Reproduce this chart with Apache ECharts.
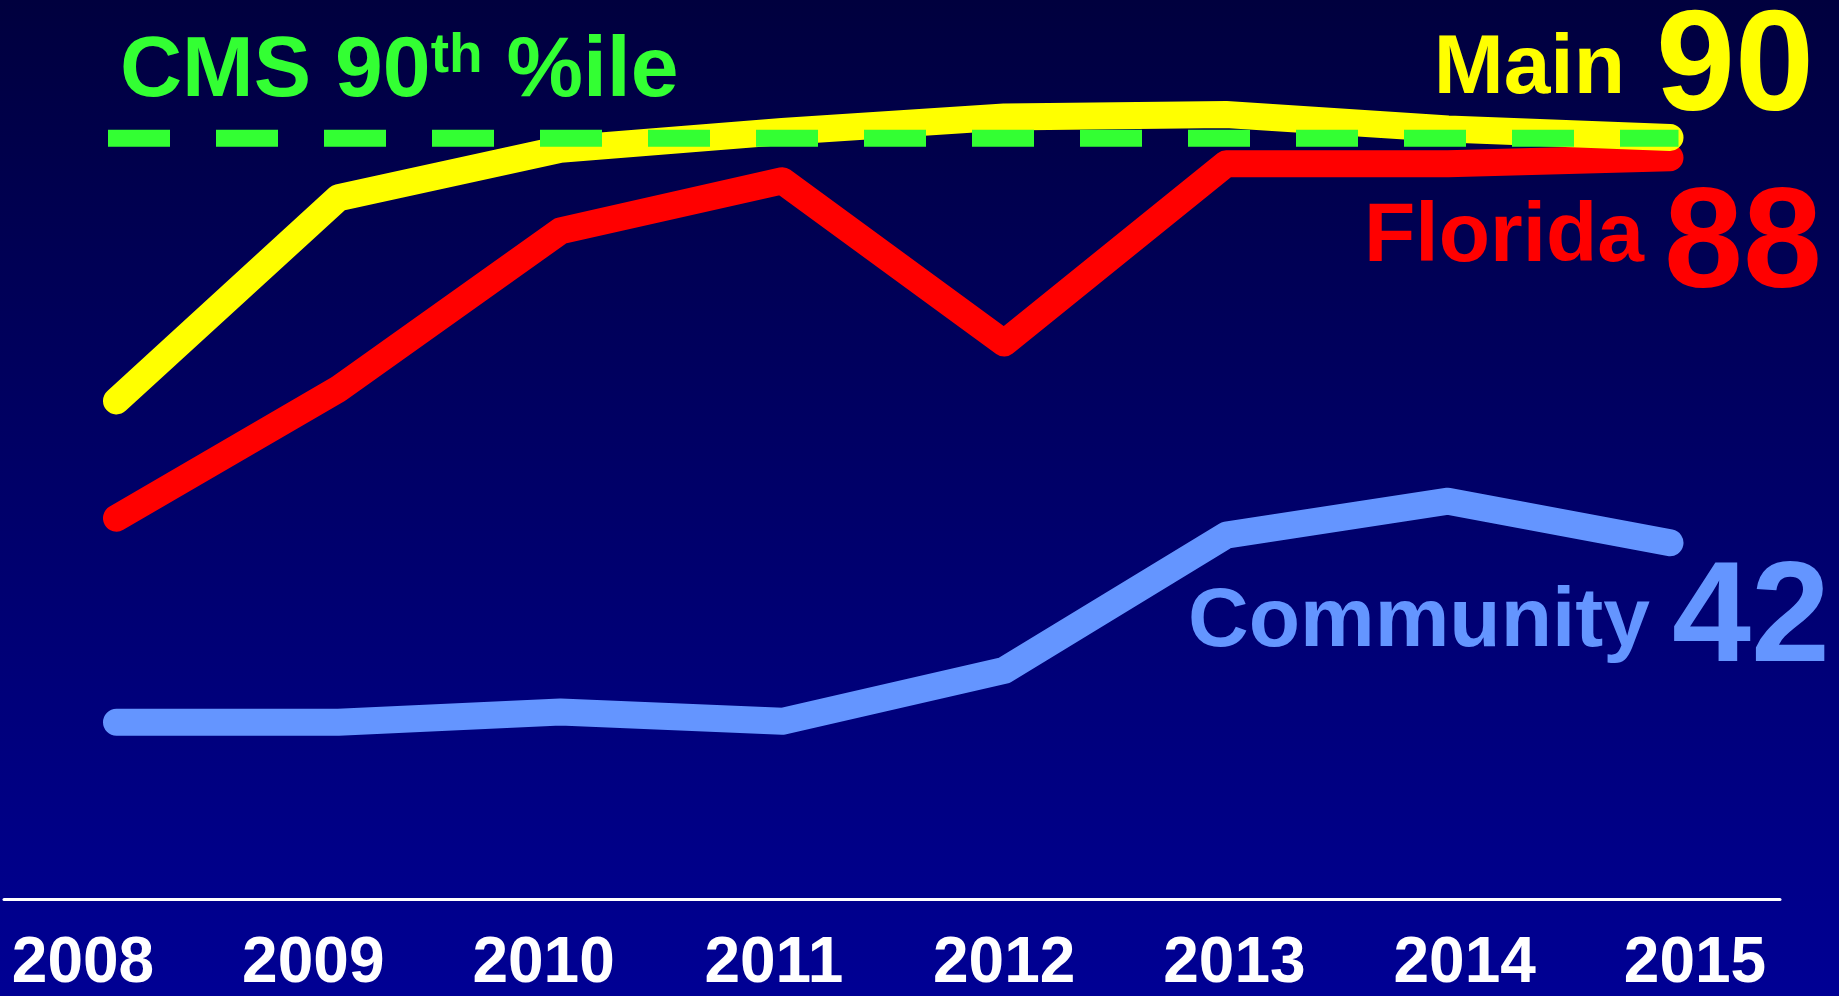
<!DOCTYPE html>
<html>
<head>
<meta charset="utf-8">
<title>CMS 90th %ile</title>
<script src="https://cdn.jsdelivr.net/npm/echarts@6.0.0/dist/echarts.min.js"></script>
<style>
  html, body { margin: 0; padding: 0; }
  #chart { width: 1839px; height: 996px; }
</style>
</head>
<body>
<div id="chart"></div>
<script>
// values (percent)
var years = ['2008', '2009', '2010', '2011', '2012', '2013', '2014', '2015']
var mainValues = [58.6, 82.5, 88.2, 90.3, 92.0, 92.3, 90.6, 89.6]
var floridaValues = [44.8, 60.0, 78.6, 84.5, 65.4, 86.5, 86.5, 87.2]
var communityValues = [20.8, 20.8, 22.0, 20.9, 26.9, 42.8, 46.8, 41.9]
var cmsValues = [89.5, 89.5, 89.5, 89.5, 89.5, 89.5, 89.5, 89.5]
var endLabels = ['Main', 'Florida', 'Community']
var endNumbers = ['90', '88', '42']

var font = 'Liberation Sans, Arial, sans-serif'
var yellow = '#ffff00'
var red = '#ff0000'
var blue = '#6495ff'
var green = '#33ff33'

var chart = echarts.init(document.getElementById('chart'))

function lineSeries (name, data, color, z) {
  return {
    name: name,
    type: 'line',
    xAxisIndex: 0,
    yAxisIndex: 0,
    data: data,
    showSymbol: false,
    symbol: 'none',
    z: z,
    lineStyle: { color: color, width: 27, cap: 'round', join: 'round' }
  }
}

// right-aligned label boxes (lineHeight = fontSize)
function word (text, color, size, right, top) {
  return {
    type: 'text',
    right: 1839 - right,
    top: top,
    style: {
      text: text,
      fill: color,
      font: 'bold ' + size + 'px ' + font,
      lineHeight: size
    }
  }
}

chart.setOption({
  animation: false,
  backgroundColor: {
    type: 'linear', x: 0, y: 0, x2: 0, y2: 1,
    colorStops: [
      { offset: 0, color: '#00003e' },
      { offset: 1, color: '#000094' }
    ]
  },
  grid: [
    { left: 116.5, right: 169, top: 49, bottom: 97 },
    { left: 83, right: 144, top: 49, bottom: 97 },
    { left: 4, right: 59, top: 49, bottom: 97 }
  ],
  xAxis: [
    { type: 'category', gridIndex: 0, data: years, boundaryGap: false, show: false },
    {
      type: 'category',
      gridIndex: 1,
      data: years,
      boundaryGap: false,
      axisLine: { show: false },
      axisTick: { show: false },
      splitLine: { show: false },
      axisLabel: {
        color: '#fff',
        fontFamily: font,
        fontWeight: 'bold',
        fontSize: 64,
        lineHeight: 64,
        margin: 36
      }
    },
    {
      type: 'value',
      gridIndex: 2,
      min: 0,
      max: 1,
      axisLine: { show: true, lineStyle: { color: '#fff', width: 3 } },
      axisTick: { show: false },
      axisLabel: { show: false },
      splitLine: { show: false }
    }
  ],
  yAxis: [
    { type: 'value', gridIndex: 0, min: 0, max: 100, show: false },
    { type: 'value', gridIndex: 1, min: 0, max: 1, show: false },
    { type: 'value', gridIndex: 2, min: 0, max: 1, show: false }
  ],
  series: [
    lineSeries('Community', communityValues, blue, 2),
    lineSeries('Florida', floridaValues, red, 3),
    lineSeries('Main', mainValues, yellow, 4),
    {
      name: 'CMS 90th %ile',
      type: 'line',
      data: cmsValues,
      showSymbol: false,
      symbol: 'none',
      z: 5,
      lineStyle: { color: green, width: 17, type: [45, 63], cap: 'square' }
    }
  ],
  graphic: [
    {
      type: 'text',
      left: 120,
      top: 29,
      style: {
        text: '{a|CMS 90}{s|th}{a| %ile}',
        rich: {
          a: { fill: green, font: 'bold 86px ' + font, lineHeight: 86 },
          s: { fill: green, font: 'bold 55px ' + font, lineHeight: 55, verticalAlign: 'top' }
        }
      }
    },
    word(endLabels[0], yellow, 84, 1625, 28),
    word(endNumbers[0], yellow, 142, 1814, 0),
    word(endLabels[1], red, 84, 1644, 196),
    word(endNumbers[1], red, 142, 1822, 177),
    word(endLabels[2], blue, 84, 1650, 581),
    word(endNumbers[2], blue, 142, 1830, 551)
  ]
})
</script>
</body>
</html>
